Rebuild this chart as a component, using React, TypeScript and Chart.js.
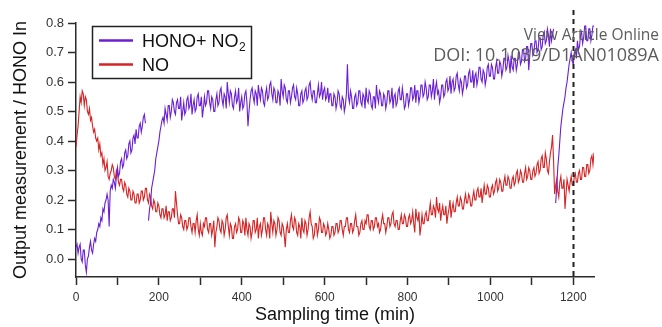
import React, { useEffect, useRef } from "react";
import { Chart, registerables } from "chart.js";

Chart.register(...registerables);

// ---- data ----
const SAMPLE_START_MIN = 0;
const SAMPLE_STEP_MIN = 2.5;

// HONO + NO2 output (one value per 2.5-minute sample, null = gap)
const HONO_NO2 = [
  0.04, 0.05, 0.02, 0.04, 0.05, 0.00, -0.01, 0.03, 0.03, -0.02, -0.045, 0.00, 0.01, 0.04, 0.06, 0.03, 0.02, 0.05, 0.07, 0.06,
  0.09, 0.10, 0.12, 0.11, 0.14, 0.13, 0.17, 0.16, 0.19, 0.20, 0.22, 0.20, 0.11, 0.23, 0.25, 0.24, 0.27, 0.26, 0.24, 0.28,
  0.31, 0.28, 0.29, 0.33, 0.34, 0.31, 0.32, 0.36, 0.37, 0.34, 0.35, 0.39, 0.40, 0.36, 0.37, 0.41, 0.42, 0.39, 0.44, 0.41,
  0.41, 0.45, 0.46, 0.43, 0.45, 0.48, 0.49, 0.46, null, null, 0.13, 0.17, 0.19, 0.24, 0.26, 0.28, 0.30, 0.34, 0.36, 0.38,
  0.40, 0.43, 0.45, 0.47, 0.48, 0.46, 0.51, 0.49, 0.47, 0.52, 0.52, 0.48, 0.50, 0.54, 0.53, 0.50, 0.49, 0.53, 0.54, 0.51,
  0.51, 0.55, 0.47, 0.50, 0.53, 0.49, 0.50, 0.54, 0.55, 0.51, 0.52, 0.56, 0.49, 0.52, 0.54, 0.50, 0.51, 0.55, 0.56, 0.52,
  0.52, 0.55, 0.48, 0.51, 0.55, 0.52, 0.53, 0.57, 0.57, 0.53, 0.51, 0.55, 0.54, 0.50, 0.50, 0.54, 0.56, 0.52, 0.53, 0.57,
  0.58, 0.54, 0.52, 0.56, 0.55, 0.51, 0.60, 0.56, 0.53, 0.57, 0.56, 0.52, 0.51, 0.55, 0.57, 0.53, 0.54, 0.58, 0.50, 0.53,
  0.55, 0.51, 0.52, 0.56, 0.57, 0.53, 0.45, 0.50, 0.54, 0.57, 0.58, 0.55, 0.53, 0.57, 0.56, 0.52, 0.59, 0.56, 0.54, 0.58,
  0.57, 0.53, 0.52, 0.56, 0.58, 0.54, 0.55, 0.59, 0.60, 0.56, 0.54, 0.58, 0.57, 0.53, 0.53, 0.57, 0.56, 0.52, 0.61, 0.57,
  0.55, 0.59, 0.58, 0.54, 0.53, 0.57, 0.57, 0.53, 0.55, 0.58, 0.59, 0.55, 0.54, 0.58, 0.56, 0.52, 0.52, 0.56, 0.57, 0.53,
  0.54, 0.57, 0.58, 0.54, 0.55, 0.59, 0.60, 0.56, 0.54, 0.57, 0.57, 0.53, 0.53, 0.56, 0.59, 0.55, 0.56, 0.60, 0.54, 0.57,
  0.58, 0.54, 0.55, 0.58, 0.53, 0.56, 0.56, 0.52, 0.52, 0.56, 0.55, 0.51, 0.53, 0.57, 0.56, 0.52, 0.51, 0.55, 0.54, 0.50,
  0.52, 0.56, 0.66, 0.55, 0.53, 0.57, 0.55, 0.51, 0.51, 0.55, 0.56, 0.52, 0.53, 0.57, 0.57, 0.53, 0.52, 0.56, 0.55, 0.51,
  0.58, 0.54, 0.53, 0.57, 0.56, 0.52, 0.51, 0.55, 0.55, 0.51, 0.59, 0.55, 0.53, 0.57, 0.56, 0.52, 0.52, 0.56, 0.55, 0.51,
  0.53, 0.57, 0.57, 0.53, 0.54, 0.58, 0.51, 0.55, 0.56, 0.52, 0.53, 0.57, 0.58, 0.54, 0.54, 0.58, 0.55, 0.51, 0.52, 0.56,
  0.56, 0.52, 0.54, 0.58, 0.58, 0.54, 0.55, 0.59, 0.53, 0.57, 0.57, 0.53, 0.55, 0.59, 0.59, 0.55, 0.56, 0.60, 0.58, 0.54,
  0.55, 0.59, 0.59, 0.55, 0.57, 0.61, 0.54, 0.58, 0.60, 0.56, 0.57, 0.53, 0.55, 0.59, 0.59, 0.55, 0.56, 0.60, 0.61, 0.57,
  0.58, 0.62, 0.56, 0.60, 0.61, 0.57, 0.58, 0.62, 0.63, 0.59, 0.57, 0.61, 0.60, 0.56, 0.58, 0.62, 0.62, 0.58, 0.59, 0.63,
  0.64, 0.60, 0.60, 0.64, 0.58, 0.62, 0.63, 0.59, 0.61, 0.65, 0.65, 0.61, 0.60, 0.64, 0.63, 0.59, 0.61, 0.65, 0.66, 0.62,
  0.62, 0.66, 0.65, 0.61, 0.61, 0.65, 0.67, 0.63, 0.63, 0.67, 0.66, 0.62, 0.64, 0.68, 0.68, 0.64, 0.65, 0.69, 0.67, 0.63,
  0.69, 0.65, 0.64, 0.68, 0.68, 0.64, 0.66, 0.70, 0.70, 0.66, 0.67, 0.71, 0.71, 0.67, 0.68, 0.72, 0.72, 0.64, 0.69, 0.73,
  0.73, 0.69, 0.70, 0.74, 0.74, 0.70, 0.71, 0.75, 0.75, 0.71, 0.72, 0.76, 0.77, 0.73, 0.74, 0.78, 0.76, 0.72, 0.78, 0.74,
  0.76, 0.78, null, 0.19, 0.24, 0.31, 0.35, 0.40, 0.45, 0.48, 0.51, 0.53, 0.55, 0.58, 0.60, 0.63, 0.66, 0.68, 0.70, 0.67,
  0.66, 0.70, 0.71, 0.68, 0.74, 0.71, 0.72, 0.76, 0.77, 0.73, 0.75, 0.79, 0.79, 0.74, 0.74, 0.78, 0.78, 0.74, 0.76, 0.79,
  0.79,
];

// NO output (one value per 2.5-minute sample)
const NO_VALUES = [
  0.38, 0.42, 0.45, 0.50, 0.55, 0.53, 0.57, 0.56, 0.52, 0.55, 0.54, 0.50, 0.49, 0.51, 0.47, 0.48, 0.45, 0.43, 0.44, 0.41,
  0.40, 0.41, 0.37, 0.39, 0.35, 0.36, 0.32, 0.34, 0.30, 0.31, 0.33, 0.28, 0.27, 0.29, 0.30, 0.32, 0.31, 0.28, 0.27, 0.30,
  0.29, 0.26, 0.25, 0.27, 0.27, 0.24, 0.23, 0.26, 0.25, 0.22, 0.21, 0.24, 0.23, 0.20, 0.20, 0.23, 0.22, 0.19, 0.19, 0.22,
  0.22, 0.19, 0.20, 0.23, 0.23, 0.20, 0.21, 0.24, 0.24, 0.20, 0.19, 0.22, 0.21, 0.18, 0.17, 0.20, 0.19, 0.16, 0.16, 0.19,
  0.18, 0.15, 0.14, 0.17, 0.17, 0.14, 0.15, 0.18, 0.13, 0.16, 0.16, 0.13, 0.14, 0.17, 0.17, 0.14, 0.23, 0.19, 0.15, 0.12,
  0.12, 0.15, 0.14, 0.11, 0.10, 0.13, 0.13, 0.10, 0.11, 0.14, 0.14, 0.11, 0.09, 0.12, 0.12, 0.09, 0.13, 0.15, 0.10, 0.08,
  0.12, 0.09, 0.08, 0.12, 0.11, 0.14, 0.14, 0.10, 0.09, 0.12, 0.12, 0.08, 0.10, 0.13, 0.04, 0.09, 0.11, 0.14, 0.13, 0.10,
  0.09, 0.13, 0.12, 0.08, 0.10, 0.14, 0.15, 0.11, 0.08, 0.12, 0.11, 0.07, 0.07, 0.11, 0.12, 0.09, 0.10, 0.14, 0.13, 0.09,
  0.09, 0.13, 0.12, 0.08, 0.14, 0.10, 0.08, 0.12, 0.11, 0.07, 0.09, 0.13, 0.13, 0.09, 0.10, 0.14, 0.07, 0.11, 0.12, 0.08,
  0.10, 0.14, 0.14, 0.10, 0.08, 0.12, 0.11, 0.07, 0.16, 0.12, 0.09, 0.13, 0.12, 0.08, 0.10, 0.14, 0.13, 0.09, 0.08, 0.12,
  0.11, 0.08, 0.04, 0.10, 0.12, 0.09, 0.09, 0.13, 0.15, 0.11, 0.10, 0.14, 0.13, 0.09, 0.08, 0.12, 0.11, 0.07, 0.14, 0.10,
  0.09, 0.13, 0.12, 0.08, 0.10, 0.14, 0.16, 0.12, 0.11, 0.07, 0.08, 0.12, 0.12, 0.08, 0.10, 0.14, 0.13, 0.09, 0.09, 0.12,
  0.11, 0.08, 0.09, 0.12, 0.10, 0.07, 0.08, 0.11, 0.11, 0.08, 0.09, 0.12, 0.12, 0.09, 0.10, 0.13, 0.13, 0.10, 0.08, 0.11,
  0.11, 0.14, 0.14, 0.10, 0.09, 0.12, 0.12, 0.09, 0.10, 0.13, 0.15, 0.11, 0.11, 0.08, 0.09, 0.12, 0.13, 0.10, 0.10, 0.13,
  0.12, 0.15, 0.15, 0.11, 0.10, 0.13, 0.13, 0.10, 0.11, 0.14, 0.14, 0.11, 0.12, 0.09, 0.10, 0.13, 0.15, 0.12, 0.12, 0.09,
  0.11, 0.14, 0.14, 0.11, 0.12, 0.15, 0.16, 0.12, 0.11, 0.13, 0.13, 0.10, 0.10, 0.13, 0.15, 0.12, 0.12, 0.15, 0.14, 0.11,
  0.11, 0.14, 0.15, 0.12, 0.13, 0.16, 0.12, 0.09, 0.17, 0.14, 0.13, 0.16, 0.08, 0.11, 0.15, 0.12, 0.12, 0.15, 0.16, 0.13,
  0.13, 0.16, 0.19, 0.15, 0.15, 0.18, 0.17, 0.14, 0.21, 0.17, 0.16, 0.19, 0.13, 0.16, 0.18, 0.15, 0.15, 0.18, 0.12, 0.15,
  0.17, 0.20, 0.14, 0.17, 0.19, 0.16, 0.16, 0.19, 0.21, 0.18, 0.18, 0.21, 0.20, 0.17, 0.17, 0.20, 0.22, 0.19, 0.19, 0.22,
  0.21, 0.18, 0.18, 0.21, 0.23, 0.20, 0.20, 0.23, 0.24, 0.21, 0.21, 0.24, 0.19, 0.22, 0.25, 0.22, 0.22, 0.25, 0.24, 0.21,
  0.21, 0.24, 0.25, 0.22, 0.23, 0.26, 0.27, 0.23, 0.24, 0.27, 0.26, 0.23, 0.23, 0.26, 0.28, 0.25, 0.25, 0.28, 0.27, 0.24,
  0.24, 0.27, 0.28, 0.25, 0.26, 0.29, 0.30, 0.26, 0.27, 0.30, 0.29, 0.26, 0.26, 0.29, 0.31, 0.27, 0.28, 0.31, 0.30, 0.27,
  0.27, 0.30, 0.31, 0.28, 0.29, 0.32, 0.33, 0.29, 0.30, 0.34, 0.35, 0.31, 0.31, 0.36, 0.34, 0.30, 0.29, 0.33, 0.36, 0.38,
  0.42, 0.33, 0.22, 0.25, 0.27, 0.23, 0.21, 0.26, 0.28, 0.24, 0.24, 0.27, 0.17, 0.22, 0.27, 0.25, 0.23, 0.26, 0.28, 0.25,
  0.25, 0.28, 0.29, 0.26, 0.26, 0.29, 0.30, 0.27, 0.27, 0.31, 0.31, 0.28, 0.28, 0.32, 0.32, 0.29, 0.30, 0.34, 0.35, 0.32,
  0.36,
];

const SERIES_NAMES = ["HONO+ NO", "NO"];
const SERIES_SUBSCRIPTS = ["2", ""];
const X_TICKS = [0, 100, 200, 300, 400, 500, 600, 700, 800, 900, 1000, 1100, 1200];
const X_LABEL_EVERY = 200;
const Y_TICKS = [0.0, 0.1, 0.2, 0.3, 0.4, 0.5, 0.6, 0.7, 0.8];
const X_MIN = 0;
const X_MAX = 1250;
const Y_MIN = -0.061;
const Y_MAX = 0.8;
const MARKER_TIME = 1200;
const X_TITLE = "Sampling time (min)";
const Y_TITLE = "Output measurement / HONO In";
const WATERMARK_LINES = ["View Article Online", "DOI: 10.1039/D1AN01089A"];

const PURPLE = "#6a20d2";
const RED = "#d42424";
const AXIS = "#2a2a2a";
const FONT = "'Liberation Sans', Arial, sans-serif";

const toPoints = (vals: (number | null)[]) =>
  vals.map((v, i) => ({ x: SAMPLE_START_MIN + i * SAMPLE_STEP_MIN, y: v }));

const overlayPlugin = {
  id: "overlay",
  afterDatasetsDraw(chart: any) {
    const { ctx, chartArea, scales } = chart;
    ctx.save();
    // dashed marker line
    const mx = Math.round(scales.x.getPixelForValue(MARKER_TIME)) + 0.5;
    ctx.strokeStyle = "#222";
    ctx.lineWidth = 2;
    ctx.setLineDash([5, 4]);
    ctx.beginPath();
    ctx.moveTo(mx, 10);
    ctx.lineTo(mx, chartArea.bottom);
    ctx.stroke();
    ctx.setLineDash([]);

    // legend
    const lx = 92.5, ly = 26.5, lw = 159, lh = 52;
    ctx.fillStyle = "#fff";
    ctx.fillRect(lx, ly, lw, lh);
    ctx.strokeStyle = "#222";
    ctx.lineWidth = 1.5;
    ctx.strokeRect(lx, ly, lw, lh);
    const colors = [PURPLE, RED];
    const rows = [40.5, 64.5];
    rows.forEach((ry, i) => {
      ctx.strokeStyle = colors[i];
      ctx.lineWidth = 2.5;
      ctx.beginPath();
      ctx.moveTo(99, ry);
      ctx.lineTo(133, ry);
      ctx.stroke();
      ctx.fillStyle = "#111";
      ctx.font = `18px ${FONT}`;
      ctx.textBaseline = "alphabetic";
      ctx.textAlign = "left";
      const base = ry + 6.5;
      ctx.fillText(SERIES_NAMES[i], 142, base);
      if (SERIES_SUBSCRIPTS[i]) {
        const w = ctx.measureText(SERIES_NAMES[i]).width;
        ctx.font = `12px ${FONT}`;
        ctx.fillText(SERIES_SUBSCRIPTS[i], 142 + w + 0.5, base + 3.5);
      }
    });

    // watermark
    ctx.fillStyle = "#5c5c5c";
    ctx.textAlign = "right";
    ctx.textBaseline = "alphabetic";
    ctx.font = "15.5px 'Open Sans', sans-serif";
    ctx.fillText(WATERMARK_LINES[0], 659, 39.5);
    ctx.font = "18px 'Open Sans', sans-serif";
    ctx.fillText(WATERMARK_LINES[1], 659, 61);
    ctx.restore();
  },
};

export default function App() {
  const ref = useRef<HTMLCanvasElement | null>(null);

  useEffect(() => {
    if (!ref.current) return;
    const chart = new Chart(ref.current, {
      type: "line",
      data: {
        datasets: [
          {
            label: SERIES_NAMES[0] + SERIES_SUBSCRIPTS[0],
            data: toPoints(HONO_NO2) as any,
            borderColor: PURPLE,
            borderWidth: 1.1,
            pointRadius: 0,
            spanGaps: false,
            tension: 0,
          },
          {
            label: SERIES_NAMES[1],
            data: toPoints(NO_VALUES) as any,
            borderColor: RED,
            borderWidth: 1.1,
            pointRadius: 0,
            tension: 0,
          },
        ],
      },
      options: {
        animation: false,
        responsive: false,
        devicePixelRatio: 1,
        layout: { padding: { left: 0, top: 23, right: 68, bottom: 0 } },
        plugins: {
          legend: { display: false },
          tooltip: { enabled: false },
        },
        scales: {
          x: {
            type: "linear",
            min: X_MIN,
            max: X_MAX,
            border: { color: AXIS, width: 1.5 },
            grid: {
              display: true,
              drawOnChartArea: false,
              drawTicks: true,
              tickLength: 8,
              tickWidth: 1.5,
              tickColor: AXIS,
            },
            afterBuildTicks: (s: any) => {
              s.ticks = X_TICKS.map((v) => ({ value: v }));
            },
            afterFit: (s: any) => {
              s.height = 50;
            },
            ticks: {
              autoSkip: false,
              maxRotation: 0,
              padding: 5,
              color: "#333",
              font: { size: 12, family: FONT },
              callback: (v: any) => (Number(v) % X_LABEL_EVERY === 0 ? String(v) : ""),
            },
            title: {
              display: true,
              text: X_TITLE,
              color: "#111",
              font: { size: 18, family: FONT },
              padding: { top: 0, bottom: 1 },
            },
          },
          y: {
            type: "linear",
            min: Y_MIN,
            max: Y_MAX,
            border: { color: AXIS, width: 1.5 },
            grid: {
              display: true,
              drawOnChartArea: false,
              drawTicks: true,
              tickLength: 8,
              tickWidth: 1.5,
              tickColor: AXIS,
            },
            afterBuildTicks: (s: any) => {
              s.ticks = Y_TICKS.map((v) => ({ value: v }));
            },
            afterFit: (s: any) => {
              s.width = 76;
            },
            ticks: {
              autoSkip: false,
              padding: 4,
              color: "#333",
              font: { size: 13, family: FONT },
              callback: (v: any) => Number(v).toFixed(1),
            },
            title: {
              display: true,
              text: Y_TITLE,
              color: "#111",
              font: { size: 18, family: FONT },
              padding: { top: 10, bottom: 0 },
            },
          },
        },
      },
      plugins: [overlayPlugin],
    });
    return () => chart.destroy();
  }, []);

  return (
    <div style={{ position: "absolute", left: 0, top: 0, width: 662, height: 327, background: "#fff" }}>
      <canvas ref={ref} width={662} height={327} />
    </div>
  );
}
